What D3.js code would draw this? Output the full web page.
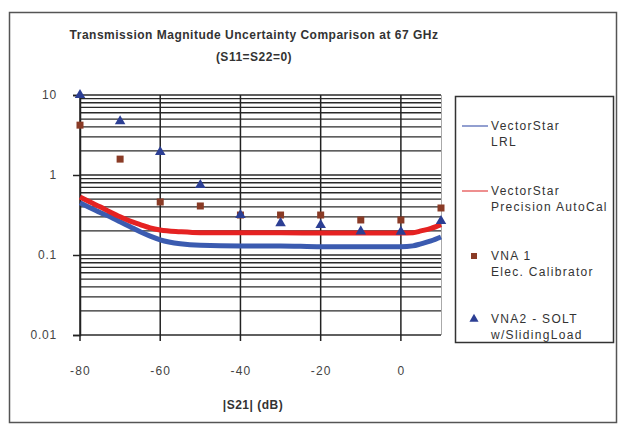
<!DOCTYPE html>
<html><head><meta charset="utf-8">
<script src="https://cdn.jsdelivr.net/npm/d3@7"></script>
<style>body{margin:0;background:#fff}svg{display:block}text{font-family:"Liberation Sans",Arial,sans-serif}</style>
</head><body>
<svg id="c" width="619" height="426"></svg>
<script>
const lrlX  = [-80,-77.5,-75,-72.5,-70,-67.5,-65,-62.5,-60,-55,-50,-40,-30,-20,-10,0,3,5,7.5,10];
const lrlY  = [0.45,0.39,0.34,0.3,0.26,0.225,0.195,0.172,0.155,0.138,0.132,0.13,0.13,0.127,0.127,0.127,0.13,0.138,0.15,0.168];
const acX   = [-80,-77.5,-75,-72.5,-70,-67.5,-65,-62.5,-60,-55,-50,-40,-30,-20,-10,0,3,5,7.5,10];
const acY   = [0.53,0.46,0.4,0.345,0.3,0.265,0.24,0.218,0.205,0.195,0.19,0.19,0.19,0.188,0.188,0.188,0.19,0.2,0.215,0.24];
const vna1X = [-80,-70,-60,-50,-40,-30,-20,-10,0,10];
const vna1Y = [4.2,1.58,0.46,0.41,0.316,0.316,0.316,0.274,0.274,0.387];
const vna2X = [-80,-70,-60,-50,-40,-30,-20,-10,0,10];
const vna2Y = [10,4.7,1.94,0.75,0.316,0.25,0.237,0.197,0.195,0.266];
const xTicks = [-80,-60,-40,-20,0];
const xTickLabels = ["-80","-60","-40","-20","0"];
const yTicks = [0.01,0.1,1,10];
const yTickLabels = ["0.01","0.1","1","10"];
const legendLabels = [["VectorStar","LRL"],["VectorStar","Precision AutoCal"],["VNA 1","Elec. Calibrator"],["VNA2 - SOLT","w/SlidingLoad"]];

const svg = d3.select("#c");
const x = d3.scaleLinear().domain([-80,10]).range([80,441]);
const y = d3.scaleLog().domain([0.01,10]).range([335,95]);

// outer frame
svg.append("rect").attr("x",9.5).attr("y",12.5).attr("width",607).attr("height",410)
  .attr("fill","none").attr("stroke","#555").attr("stroke-width",1.5);

// title
svg.append("text").attr("x",254).attr("y",39).attr("text-anchor","middle")
  .attr("font-size",12).attr("letter-spacing",0.5).attr("font-weight","bold").attr("fill","#333")
  .text("Transmission Magnitude Uncertainty Comparison at 67 GHz");
svg.append("text").attr("x",254).attr("y",61).attr("text-anchor","middle")
  .attr("font-size",12).attr("letter-spacing",0.5).attr("font-weight","bold").attr("fill","#333")
  .text("(S11=S22=0)");

// horizontal gridlines (major + minor)
const hVals = [];
for (let e=-2;e<1;e++) for (let m=1;m<10;m++) hVals.push(m*Math.pow(10,e));
hVals.push(10);
svg.append("g").selectAll("line").data(hVals).join("line")
  .attr("x1",x(-80)).attr("x2",x(10))
  .attr("y1",d=>y(d)).attr("y2",d=>y(d))
  .attr("stroke","#2a2a2a").attr("stroke-width",1.4);

// plot right border
svg.append("line").attr("x1",x(10)+0.5).attr("x2",x(10)+0.5).attr("y1",y(10)).attr("y2",y(0.01))
  .attr("stroke","#aaa").attr("stroke-width",1);

// vertical gridlines
svg.append("g").selectAll("line").data(xTicks).join("line")
  .attr("x1",d=>x(d)).attr("x2",d=>x(d)).attr("y1",y(10)).attr("y2",y(0.01)+6)
  .attr("stroke","#222").attr("stroke-width",1.5);

// y axis ticks
const yAxis = d3.axisLeft(y).tickValues(yTicks).tickFormat((d,i)=>yTickLabels[i]).tickSize(7).tickPadding(16);
const gy = svg.append("g").attr("transform",`translate(${x(-80)},0)`).call(yAxis);
gy.select(".domain").attr("stroke","#222").attr("stroke-width",1.5);
gy.selectAll(".tick line").attr("stroke","#222").attr("stroke-width",1.5);
gy.selectAll("text").attr("font-size",12).attr("letter-spacing",0.8).attr("fill","#444").attr("font-family","Liberation Sans, Arial, sans-serif");

// x axis tick labels
const xAxis = d3.axisBottom(x).tickValues(xTicks).tickFormat((d,i)=>xTickLabels[i]).tickSize(0).tickPadding(31);
const gx = svg.append("g").attr("transform",`translate(0,${y(0.01)})`).call(xAxis);
gx.select(".domain").remove();
gx.selectAll("text").attr("font-size",12).attr("letter-spacing",1.2).attr("fill","#444").attr("font-family","Liberation Sans, Arial, sans-serif");

svg.append("text").attr("x",253).attr("y",409).attr("text-anchor","middle")
  .attr("font-size",12).attr("letter-spacing",0.5).attr("font-weight","bold").attr("fill","#333").text("|S21| (dB)");

// lines
const line = d3.line().x(d=>x(d[0])).y(d=>y(d[1])).curve(d3.curveMonotoneX);
svg.append("path").datum(lrlX.map((v,i)=>[v,lrlY[i]])).attr("d",line)
  .attr("fill","none").attr("stroke","#3b5bb0").attr("stroke-width",5);
svg.append("path").datum(acX.map((v,i)=>[v,acY[i]])).attr("d",line)
  .attr("fill","none").attr("stroke","#e52222").attr("stroke-width",5);

// markers
const sq = 7;
svg.append("g").selectAll("rect").data(vna1X.map((v,i)=>[v,vna1Y[i]])).join("rect")
  .attr("x",d=>x(d[0])-sq/2).attr("y",d=>y(d[1])-sq/2).attr("width",sq).attr("height",sq)
  .attr("fill","#8a3b26");
const tri = d3.symbol().type(d3.symbolTriangle).size(48);
svg.append("g").selectAll("path").data(vna2X.map((v,i)=>[v,vna2Y[i]])).join("path")
  .attr("d",tri).attr("transform",d=>`translate(${x(d[0])},${y(d[1])})`)
  .attr("fill","#2c3f94");

// legend
svg.append("rect").attr("x",455.5).attr("y",96.5).attr("width",158).attr("height",246)
  .attr("fill","#fff").attr("stroke","#333").attr("stroke-width",1.5);
const ly = [126,191,256,319];
const lg = svg.append("g");
legendLabels.forEach((lab,i)=>{
  const t = lg.append("text").attr("x",491).attr("y",ly[i]+4).attr("font-size",12).attr("letter-spacing",1.3).attr("fill","#333");
  t.append("tspan").attr("x",491).text(lab[0]);
  t.append("tspan").attr("x",491).attr("dy",16).text(lab[1]);
});
lg.append("line").attr("x1",462).attr("x2",488).attr("y1",ly[0]).attr("y2",ly[0]).attr("stroke","#6e7fc0").attr("stroke-width",1.5);
lg.append("line").attr("x1",462).attr("x2",488).attr("y1",ly[1]).attr("y2",ly[1]).attr("stroke","#e86a6a").attr("stroke-width",1.5);
lg.append("rect").attr("x",471).attr("y",ly[2]-3).attr("width",6).attr("height",6).attr("fill","#8a3b26");
lg.append("path").attr("d",d3.symbol().type(d3.symbolTriangle).size(36)).attr("transform",`translate(474,${ly[3]})`).attr("fill","#2c3f94");
</script>
</body></html>
